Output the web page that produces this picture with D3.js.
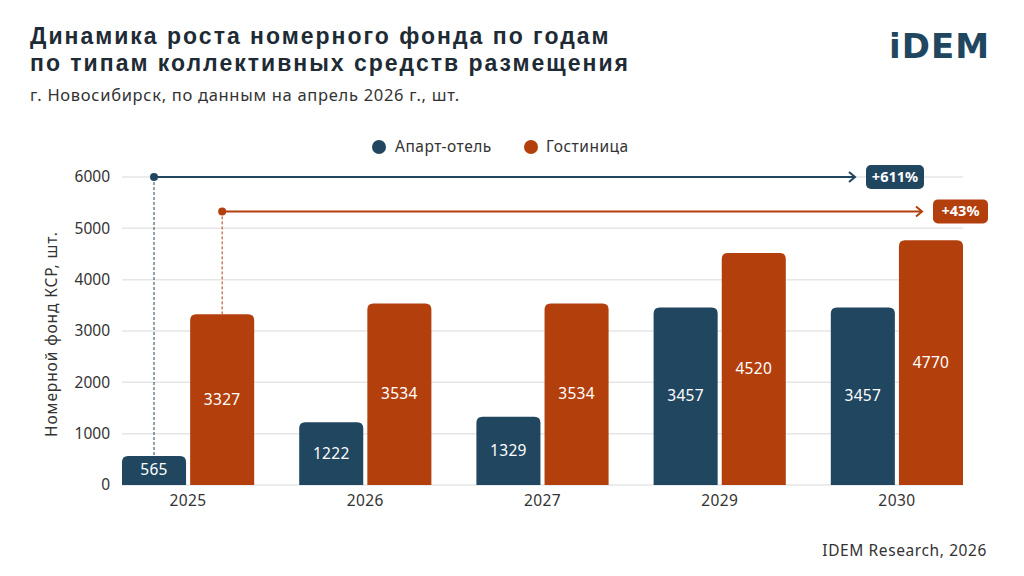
<!DOCTYPE html>
<html><head><meta charset="utf-8">
<script src="https://cdn.jsdelivr.net/npm/d3@7"></script>
<style>body{margin:0;background:#fff}svg{display:block;font-family:"Noto Sans",sans-serif}</style>
</head><body><svg id="c" width="1024" height="576"></svg>
<script>
const years = ["2025","2026","2027","2029","2030"];
const seriesNames = ["Апарт-отель","Гостиница"];
const apartValues = [565,1222,1329,3457,3457];
const hotelValues = [3327,3534,3534,4520,4770];
const yTicks = [0,1000,2000,3000,4000,5000,6000];
const growthLabels = ["+611%","+43%"];
const growthLineValues = [6000,5330];
const colors = ["#21465f","#b33f0d"];

const svg = d3.select("#c");
const y = d3.scaleLinear().domain([0,6000]).range([485,177]);
const x = d3.scaleBand().domain(years).range([122,963]).paddingInner(0.254).paddingOuter(0);
const xs = d3.scaleBand().domain(seriesNames).range([0,x.bandwidth()]).paddingInner(0.06);

// title
const tf = "'Liberation Sans',Arial,sans-serif";
svg.append("text").attr("x",30).attr("y",44).attr("font-family",tf).attr("font-size",23).attr("font-weight",700).attr("letter-spacing",2).attr("fill","#1e2b35").text("Динамика роста номерного фонда по годам");
svg.append("text").attr("x",30).attr("y",71).attr("font-family",tf).attr("font-size",23).attr("font-weight",700).attr("letter-spacing",2).attr("fill","#1e2b35").text("по типам коллективных средств размещения");
svg.append("text").attr("x",30).attr("y",101).attr("font-size",16.5).attr("letter-spacing",0.7).attr("fill","#333").text("г. Новосибирск, по данным на апрель 2026 г., шт.");
// logo
svg.append("text").attr("x",990).attr("y",58).attr("text-anchor","end").attr("font-size",34).attr("font-weight",800).attr("letter-spacing",1).attr("fill","#21465f").attr("font-family","'DejaVu Sans',sans-serif").text("iDEM");
// source
svg.append("text").attr("x",987).attr("y",556).attr("text-anchor","end").attr("font-size",15.5).attr("letter-spacing",0.6).attr("fill","#333").text("IDEM Research, 2026");

// legend
const lg = svg.append("g");
[[379,395],[531,546]].forEach((p,i)=>{
  lg.append("circle").attr("cx",p[0]).attr("cy",147).attr("r",7).attr("fill",colors[i]);
  lg.append("text").attr("x",p[1]).attr("y",152).attr("font-size",15.5).attr("letter-spacing",0.5).attr("fill","#333").text(seriesNames[i]);
});

// grid
svg.append("g").selectAll("line").data(yTicks).join("line")
  .attr("x1",122).attr("x2",963).attr("y1",d=>y(d)).attr("y2",d=>y(d))
  .attr("stroke","#e6e6e6").attr("stroke-width",1.5);
// y axis
const ya = svg.append("g").attr("transform","translate(122,0)")
  .call(d3.axisLeft(y).tickValues(yTicks).tickSize(0).tickPadding(12).tickFormat(d3.format("d")));
ya.select(".domain").remove();
ya.selectAll("text").attr("font-size",15.5).attr("fill","#333").attr("font-family","'Noto Sans',sans-serif");
svg.append("text").attr("transform","translate(57,334) rotate(-90)").attr("text-anchor","middle").attr("font-size",15.5).attr("letter-spacing",0.9).attr("fill","#333").text("Номерной фонд КСР, шт.");
// x axis
const xa = svg.append("g").attr("transform","translate(0,485)").call(d3.axisBottom(x).tickSize(0).tickPadding(10));
xa.select(".domain").remove();
xa.selectAll("text").attr("font-size",15.5).attr("letter-spacing",0.4).attr("fill","#333").attr("font-family","'Noto Sans',sans-serif");

// bars
function roundTop(x0,y0,w,h,r){r=Math.min(r,h,w/2);return `M${x0},${y0+h}V${y0+r}Q${x0},${y0} ${x0+r},${y0}H${x0+w-r}Q${x0+w},${y0} ${x0+w},${y0+r}V${y0+h}Z`;}
const data = years.map((yr,i)=>({year:yr,vals:[apartValues[i],hotelValues[i]]}));
const g = svg.append("g");
data.forEach(d=>{
  d.vals.forEach((v,i)=>{
    const bx = x(d.year)+xs(seriesNames[i]);
    g.append("path").attr("d",roundTop(bx,y(v),xs.bandwidth(),y(0)-y(v),6)).attr("fill",colors[i]);
    g.append("text").attr("x",bx+xs.bandwidth()/2).attr("y",(y(v)+y(0))/2+5).attr("text-anchor","middle")
      .attr("font-size",15.5).attr("letter-spacing",0.3).attr("fill","#fff").text(v);
  });
});

// growth annotations
const endX = [855,922];
const boxX = [866,933];
const boxW = [58,55];
growthLineValues.forEach((lv,i)=>{
  const cx = x(years[0])+xs(seriesNames[i])+xs.bandwidth()/2;
  const yy = y(lv);
  svg.append("line").attr("x1",cx).attr("x2",cx).attr("y1",yy).attr("y2",y(i===0?apartValues[0]:hotelValues[0]))
    .attr("stroke",colors[i]).attr("stroke-width",1).attr("stroke-dasharray","3,2");
  svg.append("line").attr("x1",cx).attr("x2",endX[i]).attr("y1",yy).attr("y2",yy).attr("stroke",colors[i]).attr("stroke-width",2);
  svg.append("path").attr("d",`M${endX[i]-6},${yy-5}L${endX[i]},${yy}L${endX[i]-6},${yy+5}`).attr("fill","none").attr("stroke",colors[i]).attr("stroke-width",2);
  svg.append("circle").attr("cx",cx).attr("cy",yy).attr("r",4).attr("fill",colors[i]);
  svg.append("rect").attr("x",boxX[i]).attr("y",yy-12).attr("width",boxW[i]).attr("height",24).attr("rx",5).attr("fill",colors[i]);
  svg.append("text").attr("x",boxX[i]+boxW[i]/2).attr("y",yy+5).attr("text-anchor","middle").attr("font-size",14.5).attr("font-weight",700).attr("fill","#fff").text(growthLabels[i]);
});
</script></body></html>
